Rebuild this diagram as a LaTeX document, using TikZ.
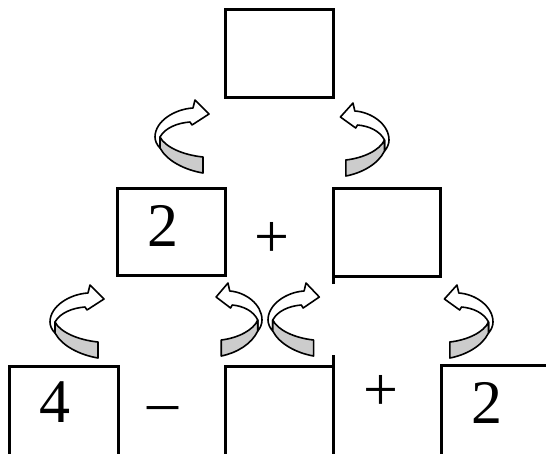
\documentclass[tikz,border=0pt]{standalone}
\usepackage{fontspec}
\setmainfont{Liberation Serif}
\definecolor{ribbon}{RGB}{204,204,204}
\tikzset{
  boxline/.style={line width=3pt},
  digit/.style={font=\fontsize{62}{62}\selectfont, inner sep=0pt},
  % curled arrow, origin at the outer turning point
  twist/.pic={
    \draw[fill=white, line width=1.6pt, line join=round]
      (38,-29) -- (40,-37) -- (54,-23) -- (37,-12) -- (35,-15)
      .. controls (22,-14) and (10,-9) .. (5,0) -- (5,11)
      .. controls (2,8) and (0,4) .. (0,0)
      .. controls (0,-16) and (20,-28) .. cycle;
    \draw[fill=ribbon, line width=1.6pt, line join=round]
      (5,0) .. controls (10,10) and (28,18) .. (48,20) -- (48,36)
      .. controls (30,33) and (12,24) .. (5,11) -- cycle;
  }
}
\begin{document}
\begin{tikzpicture}[x=1pt, y=-1pt]
\useasboundingbox (0,0) rectangle (546,453);

% Top row
\draw[boxline] (225,9) rectangle (333,97);

% Middle row
\draw[boxline] (117,188) rectangle (225,275);
\node[digit] (mid2) at (163,226) {2};
\node[digit] (midplus) at (272,240) {+};
\draw[boxline] (333,284) -- (333,188) -- (440,188) -- (440,276) -- (331.5,276);

% Bottom row
\draw[boxline] (9,460) -- (9,366) -- (118,366) -- (118,460);
\node[digit] (low4) at (55,402) {4};
\node[digit] (lowminus) at (163,415) {–};
\draw[boxline] (225,460) -- (225,366) -- (333,366);
\draw[boxline] (333,355) -- (333,460);
\node[digit] (lowplus) at (381,393) {+};
\draw[boxline] (441,460) -- (441,365) -- (560,365);
\node[digit] (low2) at (487,403) {2};

% Curled arrows
\pic at (155,137) {twist};
\pic[xscale=-0.9] at (389,140) {twist};
\pic at (50,322) {twist};
\pic[xscale=-0.85] at (262,320) {twist};
\pic[xscale=0.95] at (268,320) {twist};
\pic[xscale=-0.9] at (493,322) {twist};
\end{tikzpicture}
\end{document}
